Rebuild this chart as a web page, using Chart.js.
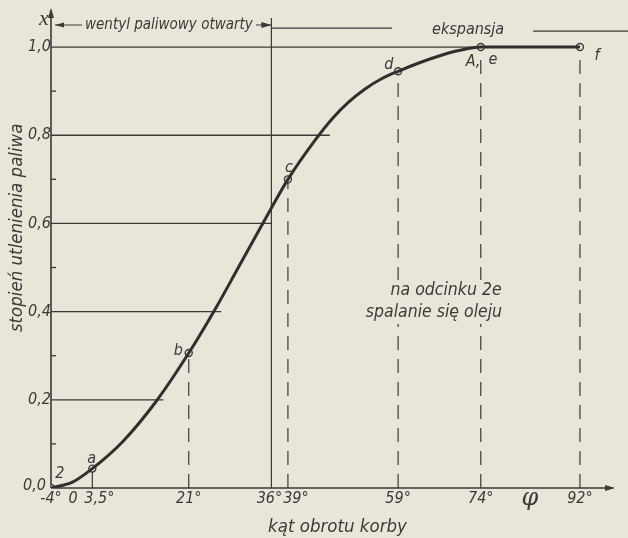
<!DOCTYPE html>
<html>
<head>
<meta charset="utf-8">
<script src="https://cdn.jsdelivr.net/npm/chart.js@4"></script>
<style>
  html, body { margin: 0; padding: 0; background: #e9e5d9; }
  canvas { display: block; }
</style>
</head>
<body>
<canvas id="chart" width="628" height="538"></canvas>
<script>
// Curve: crank angle (deg) vs degree of fuel oxidation
const curveAngles = [-4, 0, 3.5, 9, 15, 21, 26, 30, 34, 36, 39, 44, 47, 50, 53, 56, 59, 63, 67, 70, 74, 92];
const curveValues = [0, 0.014, 0.044, 0.105, 0.195, 0.306, 0.41, 0.50, 0.59, 0.635, 0.70, 0.79, 0.837, 0.875, 0.905, 0.928, 0.945, 0.965, 0.982, 0.992, 1.0, 1.0];

// Marked points on the curve
const pointAngles = [-4, 3.5, 21, 39, 59, 74, 92];
const pointValues = [0, 0.044, 0.306, 0.70, 0.945, 1.0, 1.0];

// Axis ticks
const xTicks = [-4, 0, 3.5, 21, 36, 39, 59, 74, 92];
const xTickLabels = ['-4°', '0', '3,5°', '21°', '36°', '39°', '59°', '74°', '92°'];
const yTicks = [0, 0.2, 0.4, 0.6, 0.8, 1.0];
const yTickLabels = ['0,0', '0,2', '0,4', '0,6', '0,8', '1,0'];
const yMinorTicks = [0.1, 0.3, 0.5, 0.7, 0.9];

// Horizontal guide lines end where they meet the curve (deg)
const gridEnds = [16.4, 26.9, 36, 46.6, 92];

const ink = '#3a3a38';
const paper = '#e9e5d9';
const font = (size) => `italic ${size}px "Liberation Sans Narrow", "DejaVu Sans Condensed", sans-serif`;

function arrowHead(ctx, x, y, dir) {
    ctx.beginPath();
    if (dir === 'up') {
        ctx.moveTo(x, y); ctx.lineTo(x - 3, y + 10); ctx.lineTo(x + 3, y + 10);
    } else if (dir === 'right') {
        ctx.moveTo(x, y); ctx.lineTo(x - 10, y - 3); ctx.lineTo(x - 10, y + 3);
    } else {
        ctx.moveTo(x, y); ctx.lineTo(x + 9, y - 2.5); ctx.lineTo(x + 9, y + 2.5);
    }
    ctx.closePath();
    ctx.fill();
}

const drawing = {
    id: 'drawing',
    beforeDraw(chart) {
        const ctx = chart.ctx;
        ctx.save();
        ctx.fillStyle = paper;
        ctx.fillRect(0, 0, chart.width, chart.height);
        ctx.restore();
    },
    beforeDatasetsDraw(chart) {
        const ctx = chart.ctx;
        const xs = chart.scales.x, ys = chart.scales.y;
        const X = v => xs.getPixelForValue(v);
        const Y = v => ys.getPixelForValue(v);
        const area = chart.chartArea;
        ctx.save();
        ctx.strokeStyle = ink;
        ctx.fillStyle = ink;

        // horizontal guide lines
        ctx.lineWidth = 1.3;
        yTicks.slice(1).forEach((t, i) => {
            ctx.beginPath();
            ctx.moveTo(X(-4), Y(t));
            ctx.lineTo(X(gridEnds[i]), Y(t));
            ctx.stroke();
        });

        // minor ticks on y axis
        yMinorTicks.forEach(t => {
            ctx.beginPath();
            ctx.moveTo(X(-4), Y(t));
            ctx.lineTo(X(-4) + 5, Y(t));
            ctx.stroke();
        });

        // solid verticals: 3.5 deg to point a, 36 deg to the top
        ctx.lineWidth = 1.2;
        ctx.beginPath();
        ctx.moveTo(X(3.5), Y(0)); ctx.lineTo(X(3.5), Y(pointValues[1]));
        ctx.moveTo(X(36), Y(0)); ctx.lineTo(X(36), Y(1.066));
        ctx.stroke();

        // dashed verticals up to points b..f
        ctx.setLineDash([14, 9]);
        [2, 3, 4, 5, 6].forEach(i => {
            ctx.beginPath();
            ctx.moveTo(X(pointAngles[i]), Y(0));
            ctx.lineTo(X(pointAngles[i]), Y(pointValues[i]));
            ctx.stroke();
        });
        ctx.setLineDash([]);

        // axes with arrows
        ctx.lineWidth = 1.6;
        ctx.beginPath();
        ctx.moveTo(X(-4), Y(0)); ctx.lineTo(X(-4), area.top);
        ctx.moveTo(X(-4), Y(0)); ctx.lineTo(area.right, Y(0));
        ctx.stroke();
        arrowHead(ctx, X(-4), area.top - 2, 'up');
        arrowHead(ctx, area.right + 2, Y(0), 'right');

        // top annotations
        ctx.lineWidth = 1.2;
        const yA = Y(1.05);
        ctx.beginPath();
        ctx.moveTo(X(-4) + 4, yA); ctx.lineTo(X(-4) + 31, yA);
        ctx.moveTo(X(-4) + 205, yA); ctx.lineTo(X(36), yA);
        ctx.stroke();
        arrowHead(ctx, X(-4) + 4, yA, 'left');
        arrowHead(ctx, X(36), yA, 'right');
        ctx.beginPath();
        ctx.moveTo(X(36), Y(1.043)); ctx.lineTo(X(57.9), Y(1.043));
        ctx.moveTo(X(83.5), Y(1.036)); ctx.lineTo(chart.width, Y(1.036));
        ctx.stroke();

        ctx.font = font(15);
        ctx.textBaseline = 'middle';
        ctx.textAlign = 'left';
        ctx.fillText('wentyl paliwowy otwarty', X(-4) + 34, yA);
        ctx.font = font(16);
        ctx.textAlign = 'center';
        ctx.fillText('ekspansja', X(71.7), Y(1.04));
        ctx.restore();
    },
    afterDatasetsDraw(chart) {
        const ctx = chart.ctx;
        const xs = chart.scales.x, ys = chart.scales.y;
        const X = v => xs.getPixelForValue(v);
        const Y = v => ys.getPixelForValue(v);
        ctx.save();
        ctx.fillStyle = ink;
        ctx.font = font(16);
        ctx.textBaseline = 'middle';

        // y tick labels
        ctx.textAlign = 'right';
        yTicks.forEach((t, i) => {
            ctx.fillText(yTickLabels[i], X(-4) - (i === 0 ? 5 : 0), Y(t) - (i === 0 ? 2 : 0));
        });

        // x tick labels
        ctx.textAlign = 'center';
        xTicks.forEach((t, i) => {
            let dx = 0;
            if (t === 3.5) dx = 7;
            if (t === 39) dx = 8;
            if (t === 36) dx = -2;
            ctx.fillText(xTickLabels[i], X(t) + dx, Y(0) + 11);
        });

        // phi
        ctx.font = 'italic 24px "DejaVu Serif", serif';
        ctx.fillText('φ', X(82.9), Y(0) + 11);

        // axis symbol x
        ctx.font = 'italic 22px "Liberation Serif", serif';
        ctx.fillText('x', X(-4) - 7, 19);

        // point names
        ctx.font = font(16);
        const names = [['2', -2.4, 0.032], ['a', 3.4, 0.066], ['b', 19.1, 0.311],
                       ['c', 39.2, 0.725], ['d', 57.3, 0.96], ['A,', 72.6, 0.966], ['e', 76.2, 0.972], ['f', 95.1, 0.98]];
        names.forEach(([s, a, v]) => ctx.fillText(s, X(a), Y(v)));

        // notes, with the dashed lines broken behind them
        ctx.font = font(17.5);
        const notes = [['na odcinku 2e', 67.7, 0.447], ['spalanie się oleju', 65.5, 0.397]];
        notes.forEach(([s, a, v]) => {
            const w = ctx.measureText(s).width;
            ctx.fillStyle = paper;
            ctx.fillRect(X(a) - w / 2 - 3, Y(v) - 11, w + 6, 22);
        });
        ctx.fillStyle = ink;
        notes.forEach(([s, a, v]) => ctx.fillText(s, X(a), Y(v)));

        // axis titles
        ctx.font = font(18.5);
        ctx.fillText('kąt obrotu korby', X(48.0), Y(0) + 39);
        ctx.translate(17, Y(0.59));
        ctx.rotate(-Math.PI / 2);
        ctx.fillText('stopień utlenienia paliwa', 0, 0);
        ctx.restore();
    }
};

new Chart(document.getElementById('chart'), {
    type: 'line',
    data: {
        datasets: [
            {
                data: curveAngles.map((a, i) => ({ x: a, y: curveValues[i] })),
                borderColor: '#2f2f2d',
                borderWidth: 3,
                pointRadius: 0,
                cubicInterpolationMode: 'monotone'
            },
            {
                data: pointAngles.map((a, i) => ({ x: a, y: pointValues[i] })),
                showLine: false,
                pointRadius: 3.5,
                pointBackgroundColor: paper,
                pointBorderColor: ink,
                pointBorderWidth: 1.4
            }
        ]
    },
    options: {
        responsive: false,
        animation: false,
        devicePixelRatio: 1,
        layout: { padding: { left: 51, right: 15, top: 10, bottom: 50 } },
        scales: {
            x: { type: 'linear', min: -4, max: 98, display: false },
            y: { min: 0, max: 1.084, display: false }
        },
        plugins: { legend: { display: false }, tooltip: { enabled: false } }
    },
    plugins: [drawing]
});
</script>
</body>
</html>
